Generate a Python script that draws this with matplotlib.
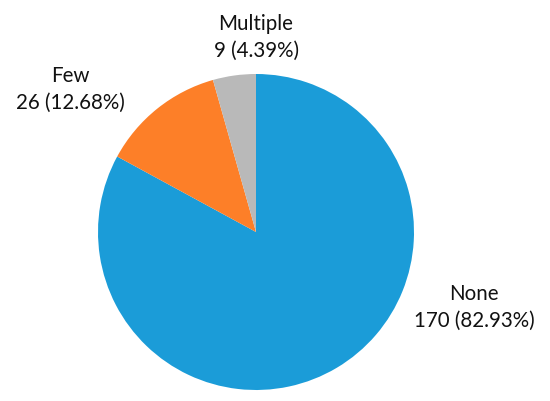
import matplotlib.pyplot as plt

categories = ["None", "Few", "Multiple"]
counts = [170, 26, 9]
percents = [82.93, 12.68, 4.39]
colors = ["#1b9cd8", "#fd7f28", "#b9b9b9"]

fig = plt.figure(figsize=(5.5, 4.01), dpi=100)
ax = fig.add_axes([98 / 550, 11 / 401, 316 / 550, 316 / 401])
ax.pie(counts, colors=colors, startangle=90, counterclock=False,
       wedgeprops=dict(linewidth=0), frame=False)
ax.set_xlim(-1, 1)
ax.set_ylim(-1, 1)
ax.set_aspect("equal")
ax.axis("off")

# label centres in figure pixels (from top-left)
label_pos = [(474, 307), (70, 89), (256, 37)]
for name, c, p, (x, y) in zip(categories, counts, percents, label_pos):
    fig.text(x / 550, 1 - y / 401, "%s\n%d (%.2f%%)" % (name, c, p),
             ha="center", va="center", fontsize=14.8, family="Lato",
             linespacing=1.42, color="#111111")

fig.savefig("out.png", dpi=100)
